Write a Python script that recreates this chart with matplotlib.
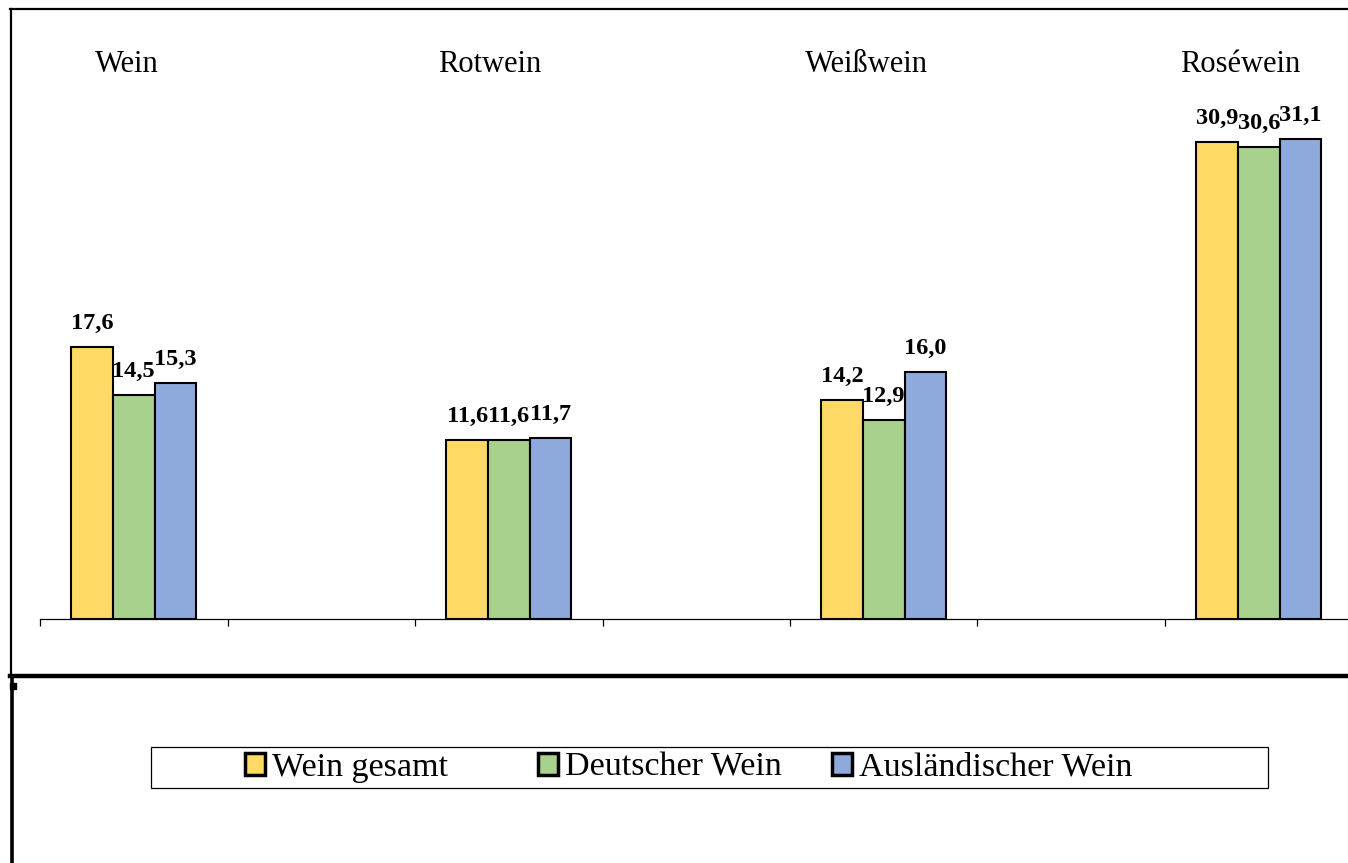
import matplotlib
matplotlib.use("Agg")
import matplotlib.pyplot as plt
from matplotlib.lines import Line2D
from matplotlib.patches import Rectangle
import numpy as np

plt.rcParams['font.family'] = ['Liberation Serif', 'DejaVu Serif']

# ---- data ----
categories = ["Wein", "", "Rotwein", "", "Weißwein", "", "Roséwein", ""]
series_names = ["Wein gesamt", "Deutscher Wein", "Ausländischer Wein"]
wein_gesamt = [17.6, None, 11.6, None, 14.2, None, 30.9, None]
deutscher_wein = [14.5, None, 11.6, None, 12.9, None, 30.6, None]
auslaendischer_wein = [15.3, None, 11.7, None, 16.0, None, 31.1, None]
series_values = [wein_gesamt, deutscher_wein, auslaendischer_wein]
colors = ["#FFD966", "#A9D18E", "#8EA9DB"]

W, H = 1348, 863
fig = plt.figure(figsize=(W / 100, H / 100), dpi=100)

# axes: left edge x=40px, baseline y=619px, 8 category slots of 187.5 px
ax = fig.add_axes([40 / W, (H - 619) / H, 1500 / W, 610 / H])
ax.set_xlim(-0.5, len(categories) - 0.5)
ax.set_ylim(0, 610 / 15.43)

bar_w = 2 / 9
handles = []
for i, (vals, col) in enumerate(zip(series_values, colors)):
    xs = [k + (i - 1) * bar_w for k, v in enumerate(vals) if v is not None]
    ys = [v for v in vals if v is not None]
    bars = ax.bar(xs, ys, width=bar_w, color=col, edgecolor="black",
                  linewidth=1.5, zorder=3)
    handles.append(bars)
    for x, y in zip(xs, ys):
        ax.annotate(f"{y:.1f}".replace(".", ","), (x, y), xytext=(0, 13),
                    textcoords="offset points", ha="center", va="baseline",
                    fontsize=17.5, fontweight="bold", color="black")

# category titles at the top
title_shift = [-0.035, 0, -0.1, 0, -0.095, 0, -0.1, 0]
for k, name in enumerate(categories):
    if name:
        ax.text(k + title_shift[k], 35.45, name, ha="center", va="baseline",
                fontsize=22, color="black")

for s in ["top", "left", "right"]:
    ax.spines[s].set_visible(False)
ax.spines["bottom"].set_linewidth(0.9)
ax.set_xticks(np.arange(len(categories) + 1) - 0.5)
ax.set_xticklabels([])
ax.tick_params(axis="x", direction="out", length=5, width=0.9, color="black")
ax.set_yticks([])

# frame lines of the chart area
def px(x, y):
    return x / W, 1 - y / H

fig.add_artist(Line2D([px(10, 9)[0], 1.0], [px(10, 9)[1]] * 2,
                      color="black", linewidth=1.6))
fig.add_artist(Line2D([px(11, 9)[0]] * 2, [px(11, 9)[1], px(11, 676)[1]],
                      color="black", linewidth=1.6))
fig.add_artist(Line2D([px(11.5, 676)[0]] * 2, [px(0, 676)[1], 0.0],
                      color="black", linewidth=2.6))
fig.add_artist(Line2D([px(10, 676)[0], 1.0], [px(0, 676)[1]] * 2,
                      color="black", linewidth=3.2))
fig.add_artist(Rectangle(px(10, 689), 6 / W, 6 / H, color="black"))

# legend frame and entries
fig.add_artist(Rectangle(px(151, 788), (1268 - 151) / W, (788 - 747) / H,
                         fill=False, edgecolor="black", linewidth=0.9))
entry_left_px = [245, 538, 832]
for h, name, xl in zip(handles, series_names, entry_left_px):
    leg = fig.legend([h], [name], loc="center left",
                     bbox_to_anchor=(xl / W, 1 - 767.5 / H),
                     frameon=False, fontsize=24.5, borderpad=0,
                     borderaxespad=0, handlelength=0.6, handleheight=0.6,
                     handletextpad=0.2)
    for lh in leg.legend_handles:
        lh.set_linewidth(2.5)

fig.savefig("out.png", dpi=100)
